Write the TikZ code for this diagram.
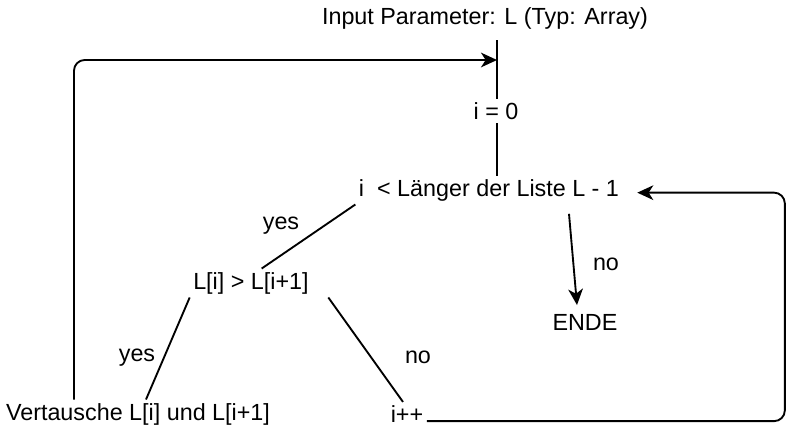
\documentclass[tikz,border=0pt]{standalone}
\usepackage{fontspec}
\setmainfont{Liberation Sans}
\usetikzlibrary{arrows.meta}
\begin{document}
\begin{tikzpicture}[x=0.75pt, y=-0.75pt, line width=1.4pt,
  every node/.style={font=\fontsize{17.5}{21}\selectfont, inner sep=2pt},
  arr/.style={-{Stealth[length=12pt,width=11pt,inset=3.5pt]}}]
            \useasboundingbox (0,0) rectangle (801,444);
            \node (input) at (485,18) {Input Parameter: L (Typ: Array)};
            \node (i0) at (496,111) {i = 0};
            \node (cond) at (489,190) {i\ \ < Länger der Liste L - 1};
            \node (cmp) at (251,283) {L[i] > L[i+1]};
            \node (swap) at (138,414) {Vertausche L[i] und L[i+1]};
            \node (inc) at (407,414) {i++};
            \node (ende) at (585,322) {ENDE};
            % branch labels
            \node (yes1) at (281,226) {yes};
            \node (yes2) at (137,358) {yes};
            \node (no1) at (418,357) {no};
            \node (no2) at (606,264) {no};
            \coordinate (join) at (497,60);
            \draw (497,40) -- (join) -- (join |- i0.north);
            \draw (join |- i0.south) -- (join |- cond.north);
            \draw[arr, rounded corners=8pt] ([xshift=-48pt]swap.north) |- (join);
            \draw (cond.south west) -- ([xshift=8pt]cmp.north);
            \draw (cmp.south west) -- ([xshift=6pt]swap.north);
            \draw ([xshift=12pt]cmp.south east) -- ([xshift=-3pt]inc.north);
            \draw[arr] ([xshift=60pt,yshift=-7pt]cond.south) -- ([xshift=-6pt,yshift=4pt]ende.north);
            \draw[arr, rounded corners=8pt] ([yshift=1pt]inc.base east) -- ++(358,0) |- ([xshift=11pt,yshift=-2pt]cond.east);
        \end{tikzpicture}
\end{document}
